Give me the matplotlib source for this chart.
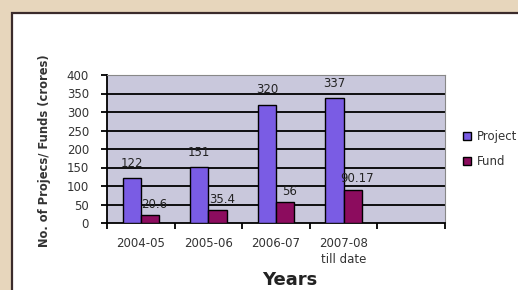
import matplotlib.pyplot as plt
from matplotlib.patches import Rectangle
import numpy as np

years = ["2004-05", "2005-06", "2006-07", "2007-08\ntill date", ""]
projects = [122, 151, 320, 337]
funds = [20.6, 35.4, 56, 90.17]
fund_labels = ["20.6", "35.4", "56", "90.17"]

fig = plt.figure(figsize=(5.18, 2.90), dpi=100)
fig.patch.set_facecolor("#e7d6bc")

# white card from the scanned page
card = Rectangle((12 / 518, -0.1), 1.0, 1 - 13 / 290 + 0.1, transform=fig.transFigure,
                 facecolor="white", edgecolor="#3b2b2b", linewidth=1.6, zorder=-10)
fig.patches.append(card)

ax = fig.add_axes([107 / 518, 1 - 223 / 290, 338 / 518, 148 / 290])
ax.set_facecolor("#c9c8dc")

x = np.arange(len(projects))
w = 0.27
b1 = ax.bar(x - w / 2, projects, w, color="#7a5ce4", edgecolor="black", linewidth=1.0,
            label="Project", zorder=3)
b2 = ax.bar(x + w / 2, funds, w, color="#8c0c5e", edgecolor="black", linewidth=1.0,
            label="Fund", zorder=3)

for xi, v in zip(x, projects):
    ax.annotate(str(v), (xi - w / 2, v), xytext=(0, 6), textcoords="offset points",
                ha="center", va="bottom", fontsize=8.5, color="#222")
for xi, v, s in zip(x, funds, fund_labels):
    ax.annotate(s, (xi + w / 2, v), xytext=(3, 3), textcoords="offset points",
                ha="center", va="bottom", fontsize=8.5, color="#222")

for g in range(50, 400, 50):
    ax.axhline(g, color="black", linewidth=1.3, zorder=1)

ax.set_xlim(-0.5, 4.5)
ax.set_ylim(0, 400)
ax.set_yticks(range(0, 401, 50))
ax.set_xticks(np.arange(-0.5, 5, 1))
ax.set_xticklabels([])
ax.set_xticks(np.arange(0, 5), minor=True)
ax.set_xticklabels(years, minor=True, fontsize=8.5, color="#333")
ax.tick_params(axis="x", which="minor", length=0, pad=10)
ax.tick_params(axis="x", which="major", length=4, width=1.3, direction="out")
ax.tick_params(axis="y", length=4, width=1.3, labelsize=8.5, labelcolor="#333", pad=9)
for lbl in ax.get_xticklabels(minor=True):
    lbl.set_linespacing(1.3)

ax.spines["left"].set_linewidth(1.3)
ax.spines["bottom"].set_linewidth(1.3)
ax.spines["top"].set_color("#888")
ax.spines["right"].set_color("#888")
ax.spines["top"].set_linewidth(0.8)
ax.spines["right"].set_linewidth(0.8)

ax.set_ylabel("No. of Projecs/ Funds (crores)", fontsize=8.3, fontweight="bold", color="#333")
ax.yaxis.set_label_coords(-0.165, 0.49)
fig.text(290 / 518, 1 - 280 / 290, "Years", ha="center", va="center", fontsize=13,
         fontweight="bold", color="#222")

leg = fig.legend(handles=[b1, b2], labels=["Project", "Fund"], loc="center left",
                 bbox_to_anchor=(452 / 518, 1 - 149 / 290), frameon=False, fontsize=8.5,
                 handlelength=0.7, handleheight=0.7, handletextpad=0.5, labelspacing=1.0)
for t in leg.get_texts():
    t.set_color("#333")

fig.savefig("out.png", dpi=100, facecolor=fig.get_facecolor())
